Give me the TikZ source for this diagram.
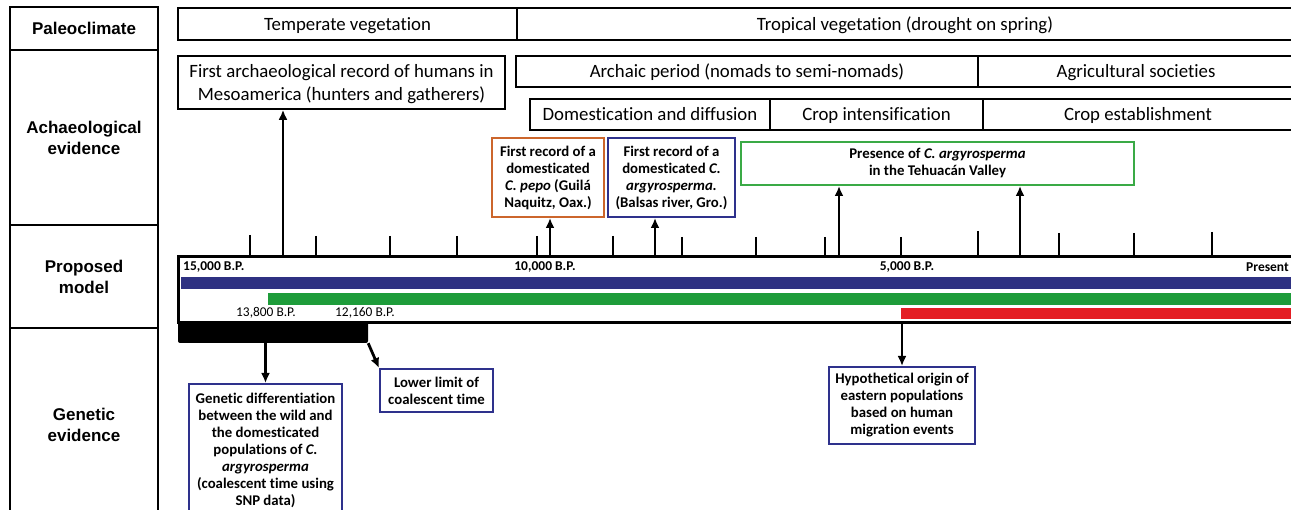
\documentclass[tikz,border=0pt]{standalone}
\usepackage{fontspec}
\setmainfont{Carlito}[Ligatures=NoCommon]
\newfontfamily\arialfont{Liberation Sans}
\usetikzlibrary{arrows.meta}
\definecolor{navy}{RGB}{46,49,130}
\definecolor{boxblue}{RGB}{46,49,140}
\definecolor{boxorange}{RGB}{204,102,44}
\definecolor{boxgreen}{RGB}{58,170,70}
\definecolor{bargreen}{RGB}{30,156,58}
\definecolor{barred}{RGB}{228,30,36}
\tikzset{
  bx/.style n args={4}{minimum width={#3-#1}, minimum height={#4-#2},
    at={({(#1+#3)/2},{(#2+#4)/2})}},
  leftcol/.style={draw, line width=2pt, inner sep=0pt, align=center,
    font=\arialfont\bfseries\fontsize{17}{21}\selectfont},
  bigbox/.style={draw, line width=1.6pt, inner sep=0pt, align=center,
    font=\fontsize{18.8}{23}\selectfont, text height=16pt, text depth=3pt},
  bigtxt/.style={inner sep=0pt, font=\fontsize{18.8}{23}\selectfont,
    text height=16pt, text depth=3pt},
  smallbox/.style={draw, line width=2pt, inner sep=0pt, align=center,
    font=\bfseries\fontsize{14.8}{17}\selectfont},
  tick/.style={line width=2.6pt},
  arr/.style={line width=2.8pt, -{Latex[length=10pt,width=9pt]}},
  tlab/.style={inner sep=0pt, font=\bfseries\fontsize{13.5}{15}\selectfont},
  tlabr/.style={inner sep=0pt, font=\fontsize{13.4}{15}\selectfont},
}
\begin{document}
\begin{tikzpicture}[x=1pt,y=-1pt]
\useasboundingbox (0,0) rectangle (1291,510);
\fill[white] (0,0) rectangle (1291,510);

% left column
\node[leftcol, bx={10}{7}{158}{50}] (paleo) {Paleoclimate};
\node[leftcol, bx={10}{50}{158}{225}] (archev) {Achaeological\\evidence};
\node[leftcol, bx={10}{225}{158}{328}] (model) {Proposed\\model};
\node[leftcol, bx={10}{328}{158}{522}] (genev) {Genetic\\evidence};

% paleoclimate row
\node[bigbox, bx={178}{8}{517}{40}] (temp) {Temperate vegetation};
\node[bigbox, bx={517}{8}{1300}{40}] (trop) {};
\node[bigtxt] (troptxt) at (905,24) {Tropical vegetation (drought on spring)};

% archaeological rows
\node[bigbox, bx={178}{56}{505}{109}, text height=, text depth=0.7pt] (first) {First archaeological record of humans in\\Mesoamerica (hunters and gatherers)};
\node[bigbox, bx={516}{56}{978}{87}] (archaic) {Archaic period (nomads to semi-nomads)};
\node[bigbox, bx={978}{56}{1300}{87}] (agri) {};
\node[bigtxt] (agritxt) at (1136,71.5) {Agricultural societies};
\node[bigbox, bx={530}{99}{770}{130}] (domest) {Domestication and diffusion};
\node[bigbox, bx={770}{99}{983}{130}] (intens) {Crop intensification};
\node[bigbox, bx={983}{99}{1300}{130}] (establ) {};
\node[bigtxt] (establtxt) at (1138,114.5) {Crop establishment};

% record boxes
\node[smallbox, draw=boxorange, bx={492}{138}{604}{217}] (pepo) {First record of a\\domesticated\\\textit{C. pepo} (Guilá\\Naquitz, Oax.)};
\node[smallbox, draw=boxblue, bx={608}{138}{735}{217}] (argy) {First record of a\\domesticated \textit{C.}\\\textit{argyrosperma.}\\(Balsas river, Gro.)};
\node[smallbox, draw=boxgreen, bx={741}{142}{1134}{185}] (tehu) {Presence of \textit{C. argyrosperma}\\in the Tehuacán Valley};

% timeline frame
\node[draw, line width=3pt, inner sep=0pt, bx={178}{257}{1320}{323}] (tl) {};

% ticks
\foreach \x/\t in {250/235,316/236,390/236,457/236,537/236,613/236,682/237,756/237,825/237,901/237,978/231,1059/233,1134/233,1212/232}
  \draw[tick] (\x,\t) -- (\x,258);

% bars
\fill[navy] (181,277) rectangle (1300,289);
\fill[bargreen] (268,293) rectangle (1300,305);
\fill[barred] (901,308) rectangle (1300,319);

% timeline labels
\node[tlab, anchor=west] (l15) at (183,267) {15,000 B.P.};
\node[tlab] (l10) at (545,267) {10,000 B.P.};
\node[tlab] (l5) at (907,267) {5,000 B.P.};
\node[tlab, anchor=east] (lp) at (1289,267) {Present};
\node[tlabr] (l138) at (266,313) {13,800 B.P.};
\node[tlabr] (l1216) at (365,313) {12,160 B.P.};

% arrows up
\coordinate (a283) at (283,257);
\coordinate (a550) at (550,257);
\coordinate (a655) at (655,257);
\coordinate (a839) at (839,257);
\coordinate (a1020) at (1020,257);
\draw[arr] (a283) -- (a283 |- first.south);
\draw[arr] (a550) -- (a550 |- pepo.south);
\draw[arr] (a655) -- (a655 |- argy.south);
\draw[arr] (a839) -- (a839 |- tehu.south);
\draw[arr] (a1020) -- (a1020 |- tehu.south);

% coalescent bar
\node[fill=black, inner sep=0pt, rounded corners=2pt, bx={178}{322}{368}{343}] (coal) {};

% genetic boxes
\node[smallbox, draw=boxblue, anchor=north, minimum width=153pt, inner ysep=9pt] (gendiff) at (265.5,383) {Genetic differentiation\\between the wild and\\the domesticated\\populations  of \textit{C.}\\\textit{argyrosperma}\\(coalescent time using\\SNP data)};
\node[smallbox, draw=boxblue, bx={380}{369}{493}{412}] (lower) {Lower limit of\\coalescent time};
\node[smallbox, draw=boxblue, bx={829}{367}{975}{444}] (hypo) {Hypothetical origin  of\\eastern populations\\based on human\\migration  events};

\draw[arr] (coal.south -| gendiff.north) -- (gendiff.north);
\draw[arr] (coal.south east) -- (lower.north west);
\coordinate (a901) at (902,323);
\draw[arr] (a901) -- (hypo.north);
\end{tikzpicture}
\end{document}
